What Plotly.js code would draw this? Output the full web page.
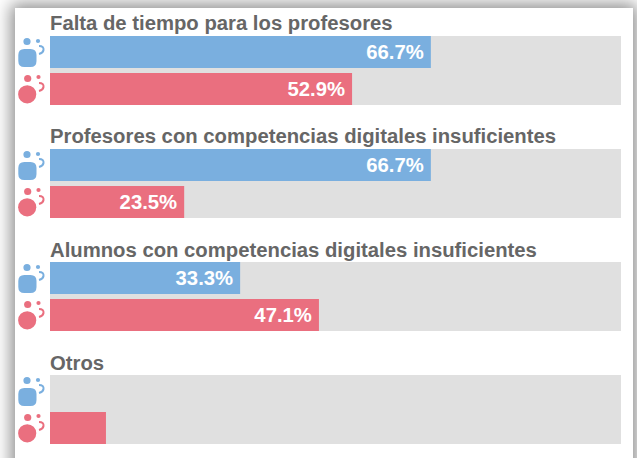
<!DOCTYPE html>
<html>
<head>
<meta charset="utf-8">
<script src="https://cdn.plot.ly/plotly-3.0.1.min.js"></script>
<style>
html,body{margin:0;padding:0;width:637px;height:458px;overflow:hidden;background:#fff;}
#frame{position:absolute;left:15px;top:8px;width:618px;height:490px;background:#fff;box-shadow:0 0 16px 4px rgba(0,0,0,.45);}
#chart{position:absolute;left:0;top:0;width:637px;height:458px;}
</style>
</head>
<body>
<div id="frame"></div>
<div id="chart"></div>
<script>
const categories = [
  "Falta de tiempo para los profesores",
  "Profesores con competencias digitales insuficientes",
  "Alumnos con competencias digitales insuficientes",
  "Otros"
];
const blueValues = [66.7, 66.7, 33.3, 0];
const redValues = [52.9, 23.5, 47.1, 9.8];
const blueLabels = ["66.7%\u2009", "66.7%\u2009", "33.3%\u2009", ""];
const redLabels = ["52.9%\u2009", "23.5%\u2009", "47.1%\u2009", ""];
const fullValues = [100, 100, 100, 100];
const footnote = "Múltiples opciones de respuesta";

const BLUE = "#7AAFDF", RED = "#EA6F7F", GRAY = "#E0E0E0", TXT = "#666666";
const L = 50, T = 36, W = 571, H = 408, PITCH = 113;
const FONT = '"Liberation Sans", Arial, sans-serif';

const groupY = categories.map((_, i) => i * PITCH + 34.5);
const blueY = categories.map((_, i) => i * PITCH + 16);
const redY = categories.map((_, i) => i * PITCH + 53);

function barTrace(vals, ys, color, width, labels) {
  return {
    type: "bar", orientation: "h", x: vals, y: ys, width: width,
    marker: {color: color, line: {width: 0}},
    text: labels, textposition: labels ? "inside" : "none",
    insidetextanchor: "end", constraintext: "none",
    textangle: 0,
    textfont: {family: FONT, size: 20.3, color: "#ffffff", weight: 700},
    hoverinfo: "skip", showlegend: false
  };
}

const data = [
  barTrace(fullValues, groupY, GRAY, 69, null),
  barTrace(blueValues, blueY, BLUE, 32, blueLabels),
  barTrace(redValues, redY, RED, 32, redLabels)
];

/* pixel-sized icon parts anchored at the top-left corner of the plot area */
const X = v => v - L;
const Y = v => T - v;
function disc(cx, cy, r, color) {
  return {type: "circle", xref: "paper", yref: "paper", xsizemode: "pixel", ysizemode: "pixel",
    xanchor: 0, yanchor: 1, x0: X(cx - r), x1: X(cx + r), y0: Y(cy + r), y1: Y(cy - r),
    fillcolor: color, line: {width: 0}};
}
function pathShape(d, color, filled) {
  return {type: "path", xref: "paper", yref: "paper", xsizemode: "pixel", ysizemode: "pixel",
    xanchor: 0, yanchor: 1, path: d,
    fillcolor: filled ? color : "rgba(0,0,0,0)",
    line: filled ? {width: 0} : {width: 2, color: color}};
}
function P(x, y) { return X(x) + " " + Y(y); }
function roundSquare(x0, y0, x1, y1, r, color) {
  const d = "M" + P(x0 + r, y0) + " L" + P(x1 - r, y0) +
    " Q" + P(x1, y0) + " " + P(x1, y0 + r) + " L" + P(x1, y1 - r) +
    " Q" + P(x1, y1) + " " + P(x1 - r, y1) + " L" + P(x0 + r, y1) +
    " Q" + P(x0, y1) + " " + P(x0, y1 - r) + " L" + P(x0, y0 + r) +
    " Q" + P(x0, y0) + " " + P(x0 + r, y0) + " Z";
  return pathShape(d, color, true);
}
function arc(x, y, color) {
  const d = "M" + P(x - 2, y - 4) + " Q" + P(x + 3, y - 4) + " " + P(x + 2.5, y) +
            " Q" + P(x + 2, y + 3) + " " + P(x - 2, y + 4);
  return pathShape(d, color, false);
}
const shapes = [];
categories.forEach((_, i) => {
  const o = i * PITCH;
  shapes.push(roundSquare(18.3, 49 + o, 36.5, 67 + o, 6, BLUE));
  shapes.push(disc(27, 41.5 + o, 3.6, BLUE));
  shapes.push(disc(38, 41 + o, 2.1, BLUE));
  shapes.push(arc(41, 50 + o, BLUE));
  shapes.push(disc(27.2, 94.3 + o, 9.1, RED));
  shapes.push(disc(27.7, 78.5 + o, 3.6, RED));
  shapes.push(disc(38.5, 77 + o, 2.1, RED));
  shapes.push(arc(41, 87 + o, RED));
});

const annotations = categories.map((c, i) => ({
  text: c, xref: "paper", yref: "paper", x: 0, y: 1 - (i * PITCH - 0.5) / H,
  xanchor: "left", yanchor: "bottom", showarrow: false, align: "left",
  borderpad: 0, xshift: -1,
  font: {family: FONT, size: 20.3, color: TXT, weight: 700}
}));
annotations.push({
  text: footnote, xref: "paper", yref: "paper", x: 1, y: 0, yshift: -12, xshift: -9,
  xanchor: "right", yanchor: "top", showarrow: false, borderpad: 0,
  font: {family: FONT, size: 15, color: TXT, weight: 700}
});

const layout = {
  width: 637, height: 458,
  margin: {l: L, r: 637 - L - W, t: T, b: 458 - T - H, pad: 0},
  paper_bgcolor: "rgba(0,0,0,0)", plot_bgcolor: "rgba(0,0,0,0)",
  barmode: "overlay", showlegend: false,
  xaxis: {range: [0, 100], visible: false, fixedrange: true},
  yaxis: {range: [H, 0], visible: false, fixedrange: true},
  shapes: shapes, annotations: annotations
};
Plotly.newPlot("chart", data, layout, {displayModeBar: false, staticPlot: true});
</script>
</body>
</html>
